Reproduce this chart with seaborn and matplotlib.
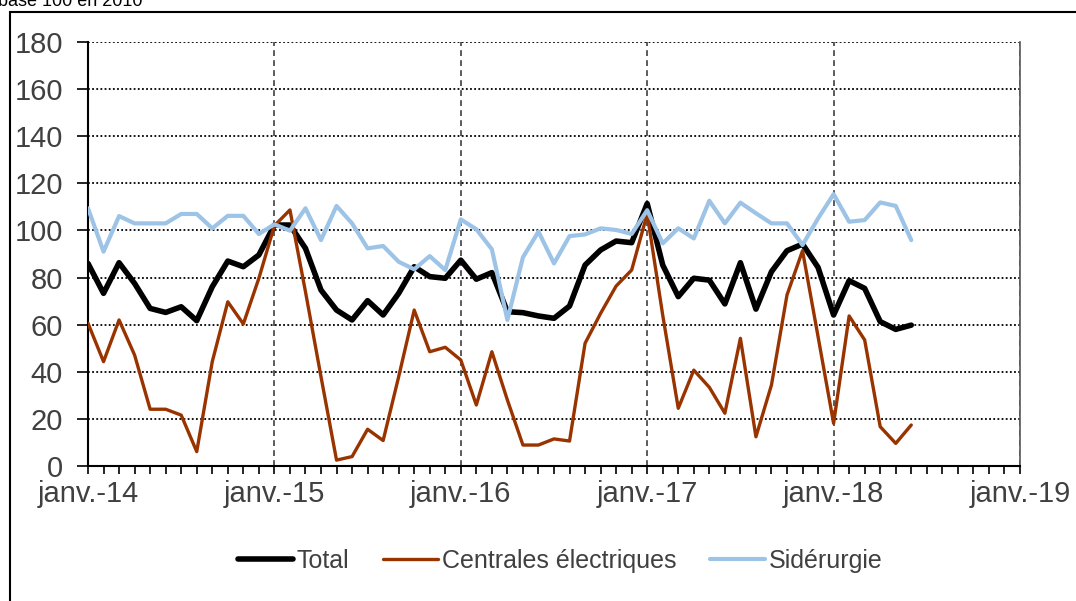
import numpy as np
import pandas as pd
import matplotlib
matplotlib.use("Agg")
import matplotlib.pyplot as plt
from matplotlib.patches import Rectangle
from matplotlib.ticker import MultipleLocator, FixedLocator
import seaborn as sns

# ---------------- data ----------------
months = list(range(54))  # janv.-14 ... juin-18, monthly
total = [86.0, 73.3, 86.3, 77.5, 66.9, 65.2, 67.6, 61.7, 76.1, 87.0, 84.6, 89.6,
         102.3, 102.3, 92.4, 74.7, 66.2, 62.0, 70.2, 64.1, 73.3, 84.6, 80.4, 79.7,
         87.4, 79.3, 82.1, 65.5, 65.1, 63.7, 62.7, 67.9, 85.3, 91.7, 95.5, 94.8,
         111.4, 85.3, 71.9, 79.7, 78.9, 68.8, 86.3, 66.6, 82.5, 91.4, 94.2, 84.3,
         64.1, 78.7, 75.4, 61.3, 58.0, 59.8]
centrales = [60.6, 44.3, 62.0, 47.1, 24.1, 24.1, 21.6, 6.1, 44.3, 69.7, 60.3, 79.7,
             102.0, 108.7, 74.0, 37.9, 2.5, 4.0, 15.6, 10.8, 37.9, 66.2, 48.5, 50.4,
             45.0, 25.9, 48.5, 28.0, 8.9, 8.9, 11.5, 10.6, 52.1, 64.8, 76.4, 83.2,
             107.0, 64.0, 24.5, 40.7, 33.4, 22.4, 54.2, 12.4, 34.4, 72.6, 91.4, 54.9,
             18.1, 63.7, 53.5, 16.7, 9.6, 17.4]
siderurgie = [109.4, 91.0, 106.1, 103.0, 103.0, 103.0, 107.0, 107.0, 100.9, 106.2, 106.2, 98.5,
              102.6, 99.9, 109.4, 95.9, 110.4, 103.0, 92.4, 93.4, 86.7, 83.5, 89.1, 83.2,
              104.7, 100.5, 92.0, 62.0, 88.6, 99.5, 86.0, 97.6, 98.3, 100.9, 100.2, 98.5,
              108.6, 94.5, 100.9, 96.6, 112.6, 103.0, 111.8, 107.3, 103.0, 103.0, 93.8, 105.1,
              115.4, 103.7, 104.4, 111.9, 110.4, 95.9]
series_names = ["Total", "Centrales électriques", "Sidérurgie"]
year_ticks = [0, 12, 24, 36, 48, 60]
year_labels = ["janv.-14", "janv.-15", "janv.-16", "janv.-17", "janv.-18", "janv.-19"]
y_ticks = [0, 20, 40, 60, 80, 100, 120, 140, 160, 180]

df = pd.DataFrame({"mois": months, "Total": total,
                   "Centrales électriques": centrales, "Sidérurgie": siderurgie})

# ---------------- style ----------------
sns.set_theme(style="white")
plt.rcParams["font.family"] = ["Liberation Sans", "DejaVu Sans"]

fig = plt.figure(figsize=(10.76, 6.01), dpi=100)
ax = fig.add_axes([88 / 1076, 1 - 466 / 601, (1020 - 88) / 1076, (466 - 42) / 601])

colors = {"Total": "#000000", "Centrales électriques": "#993300", "Sidérurgie": "#9DC3E6"}
widths = {"Total": 4.0, "Centrales électriques": 2.4, "Sidérurgie": 3.0}
for name in series_names:
    sns.lineplot(data=df, x="mois", y=name, ax=ax, color=colors[name],
                 linewidth=widths[name], label=name, zorder=3)

ax.set_xlim(0, 60)
ax.set_ylim(0, 180)
ax.set_xlabel("")
ax.set_ylabel("")

ax.xaxis.set_major_locator(FixedLocator(year_ticks))
ax.xaxis.set_minor_locator(MultipleLocator(1))
ax.set_xticks(year_ticks)
ax.set_xticklabels(year_labels)
ax.set_yticks(y_ticks)

tick_color = "#404040"
ax.tick_params(axis="x", which="both", direction="out", length=6, width=1.2,
               color="black", bottom=True)
ax.tick_params(axis="x", which="major", labelsize=21, labelcolor=tick_color, pad=4)
ax.tick_params(axis="y", which="major", direction="out", length=8, width=1.2,
               color="black", left=True, labelsize=21, labelcolor=tick_color, pad=10)

# grids
ax.yaxis.grid(True, linestyle=(0, (1.0, 1.3)), color="black", linewidth=1.3, zorder=1)
ax.xaxis.grid(True, which="major", linestyle=(0, (3.5, 2.5)), color="#404040",
              linewidth=1.2, zorder=1)
ax.set_axisbelow(True)

for s in ["left", "bottom"]:
    ax.spines[s].set_color("black")
    ax.spines[s].set_linewidth(1.5)
ax.spines["top"].set_visible(False)
ax.spines["right"].set_color("#595959")
ax.spines["right"].set_linewidth(1.2)

# legend
handles, labels = ax.get_legend_handles_labels()
ax.get_legend().remove()
leg = fig.legend(handles, labels, loc="center", bbox_to_anchor=(560 / 1076, 1 - 561 / 601),
                 ncol=3, frameon=False, fontsize=18, handlelength=2.2,
                 handletextpad=0.15, columnspacing=1.35)
for t in leg.get_texts():
    t.set_color(tick_color)

# outer frame and caption
fig.patches.append(Rectangle((10 / 1076, -0.05), 1.2, 1 - 12 / 601 + 0.05,
                             transform=fig.transFigure, fill=False,
                             edgecolor="black", linewidth=1.5))
fig.text(-2 / 1076, 1 - 6 / 601, "base 100 en 2010", fontsize=13, color="black",
         ha="left", va="baseline")

fig.savefig("out.png", dpi=100)
